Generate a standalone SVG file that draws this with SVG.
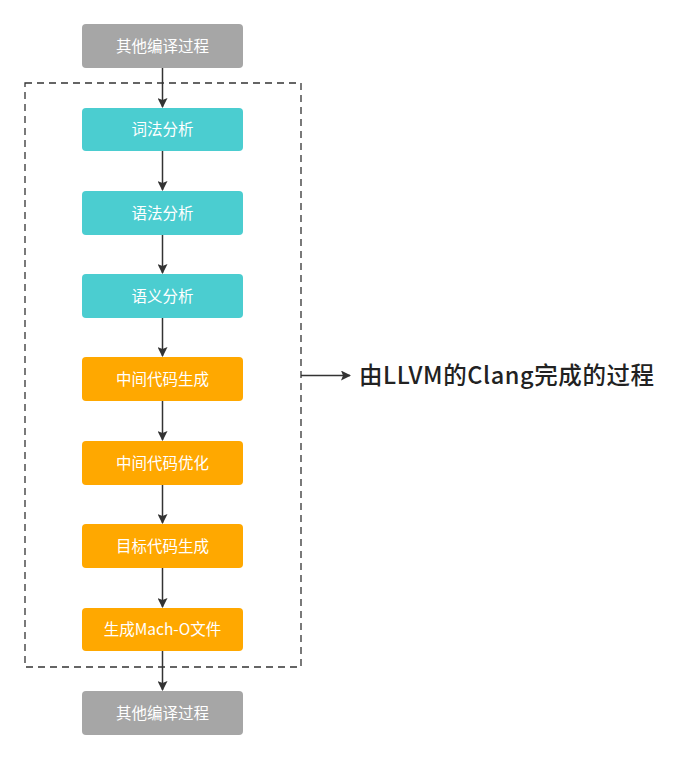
<svg xmlns="http://www.w3.org/2000/svg" width="690" height="758" viewBox="0 0 690 758">
<style>
.box{rx:4px;ry:4px;}
.gray{fill:#a6a6a6;}
.teal{fill:#4bcdd0;}
.orange{fill:#ffa800;}
.lbl{font-family:"Noto Sans CJK SC","Noto Sans",sans-serif;font-size:15.5px;fill:#ffffff;text-anchor:middle;font-weight:400;}
.cap{font-family:"Noto Sans CJK SC","Noto Sans",sans-serif;font-size:23.5px;fill:#222222;font-weight:500;letter-spacing:0.6px;}
.conn{stroke:#333333;stroke-width:1.5;fill:none;}
</style>
<defs>
<marker id="ah" markerWidth="10" markerHeight="10" refX="9" refY="5" orient="auto" markerUnits="userSpaceOnUse">
<path d="M0,0 L10,5 L0,10 L2,5 z" fill="#333333"/>
</marker>
</defs>
<rect x="25" y="83" width="276" height="584" fill="none" stroke="#333333" stroke-width="1.3" stroke-dasharray="7,5"/>
<g id="connectors">
<line class="conn" x1="162.5" y1="68" x2="162.5" y2="107" marker-end="url(#ah)"/>
<line class="conn" x1="162.5" y1="151" x2="162.5" y2="190" marker-end="url(#ah)"/>
<line class="conn" x1="162.5" y1="235" x2="162.5" y2="273" marker-end="url(#ah)"/>
<line class="conn" x1="162.5" y1="318" x2="162.5" y2="356" marker-end="url(#ah)"/>
<line class="conn" x1="162.5" y1="401" x2="162.5" y2="440" marker-end="url(#ah)"/>
<line class="conn" x1="162.5" y1="485" x2="162.5" y2="523" marker-end="url(#ah)"/>
<line class="conn" x1="162.5" y1="568" x2="162.5" y2="607" marker-end="url(#ah)"/>
<line class="conn" x1="162.5" y1="651" x2="162.5" y2="690" marker-end="url(#ah)"/>
<line class="conn" x1="301" y1="375.5" x2="350" y2="375.5" marker-end="url(#ah)"/>
</g>
<g id="n1"><rect class="box gray" x="82" y="24" width="161" height="44"/><text class="lbl" x="162.5" y="51.5">其他编译过程</text></g>
<g id="n2"><rect class="box teal" x="82" y="108" width="161" height="43"/><text class="lbl" x="162.5" y="135">词法分析</text></g>
<g id="n3"><rect class="box teal" x="82" y="191" width="161" height="44"/><text class="lbl" x="162.5" y="218.5">语法分析</text></g>
<g id="n4"><rect class="box teal" x="82" y="274" width="161" height="44"/><text class="lbl" x="162.5" y="301.5">语义分析</text></g>
<g id="n5"><rect class="box orange" x="82" y="357" width="161" height="44"/><text class="lbl" x="162.5" y="384.5">中间代码生成</text></g>
<g id="n6"><rect class="box orange" x="82" y="441" width="161" height="44"/><text class="lbl" x="162.5" y="468.5">中间代码优化</text></g>
<g id="n7"><rect class="box orange" x="82" y="524" width="161" height="44"/><text class="lbl" x="162.5" y="551.5">目标代码生成</text></g>
<g id="n8"><rect class="box orange" x="82" y="608" width="161" height="43"/><text class="lbl" x="162.5" y="635">生成Mach-O文件</text></g>
<g id="n9"><rect class="box gray" x="82" y="691" width="161" height="44"/><text class="lbl" x="162.5" y="718.5">其他编译过程</text></g>
<g id="caption"><text class="cap" x="359" y="384">由LLVM的Clang完成的过程</text></g>
</svg>
